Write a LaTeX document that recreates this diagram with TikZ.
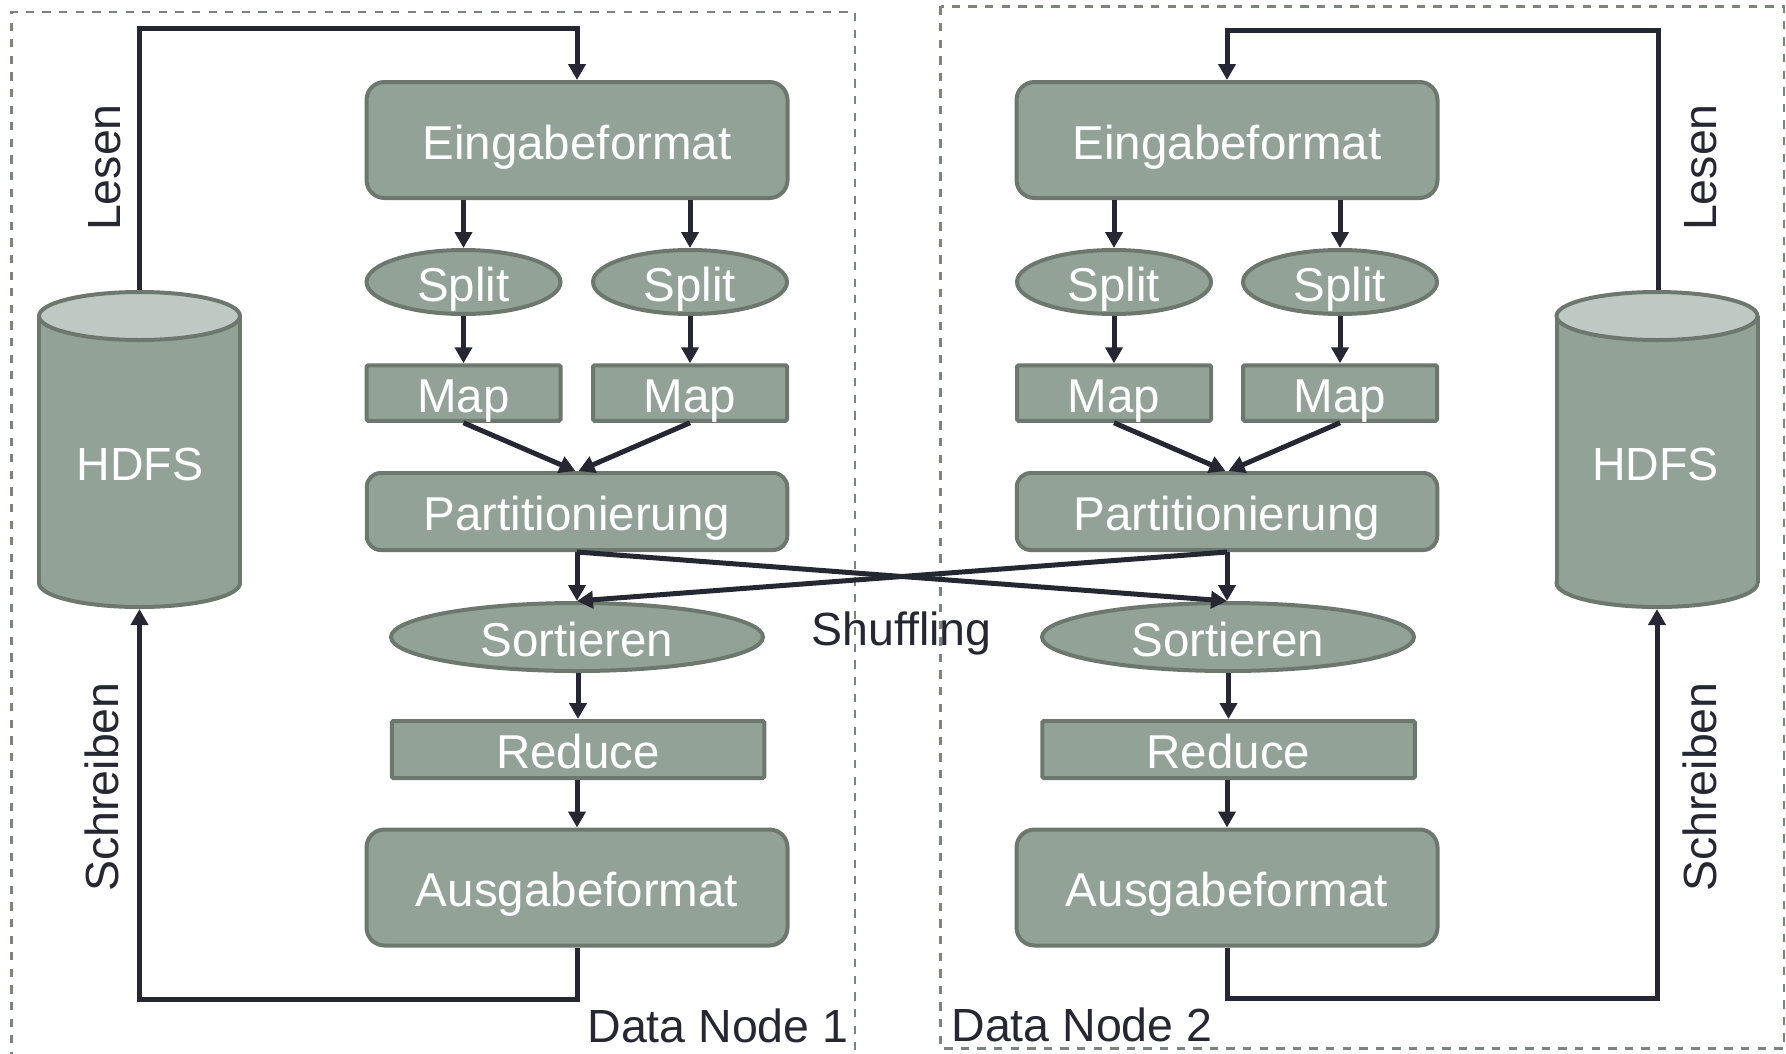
\documentclass[tikz,border=0pt]{standalone}
\usepackage{fontspec}
\setmainfont{Liberation Sans}
\usetikzlibrary{arrows.meta,shapes.geometric}
\definecolor{boxfill}{HTML}{92A297}
\definecolor{boxline}{HTML}{6C786E}
\definecolor{cyltop}{HTML}{BFC9C3}
\definecolor{ink}{HTML}{272733}
\definecolor{framecol}{HTML}{7B857E}

\begin{document}
\begin{tikzpicture}[x=1pt,y=-1pt,
  shapebase/.style={draw=boxline, fill=boxfill, line width=4pt, text=white, inner sep=0pt,
    font=\fontsize{47.5}{57}\selectfont, text height=38pt, text depth=0pt},
  bigbox/.style={shapebase, rectangle, rounded corners=18pt, minimum width=421pt, minimum height=116pt},
  partbox/.style={shapebase, rectangle, rounded corners=14pt, minimum width=420.5pt, minimum height=77pt},
  mapbox/.style={shapebase, rectangle, rounded corners=1.5pt, minimum width=194pt, minimum height=55.5pt},
  redbox/.style={shapebase, rectangle, rounded corners=1.5pt, minimum width=372.5pt, minimum height=57pt},
  splitell/.style={shapebase, ellipse, minimum width=194pt, minimum height=64pt},
  sortell/.style={shapebase, ellipse, minimum width=372pt, minimum height=68pt},
  flow/.style={draw=ink, line width=5pt, -{Triangle[length=16pt,width=17pt]}},
  lbl/.style={text=ink, inner sep=0pt, font=\fontsize{46.5}{56}\selectfont},
  cyllbl/.style={text=white, inner sep=0pt, font=\fontsize{46.5}{56}\selectfont},
  nodeframe/.style={draw=framecol, line width=2.3pt, dash pattern=on 8.3pt off 8.3pt},
  cylline/.style={draw=boxline, line width=4pt},
]
\useasboundingbox (0,0) rectangle (1786,1053);

% dashed frames of the two data nodes
\draw[nodeframe] (11.5,1060) -- (11.5,12) -- (855,12) -- (855,1060);
\draw[nodeframe] (940.5,6.4) rectangle (1784,1048.5);

% HDFS storage cylinders
\foreach \cx in {139.5,1657}{
  \fill[boxfill] (\cx,583) ellipse [x radius=100.5, y radius=24];
  \draw[cylline] (\cx,583) ellipse [x radius=100.5, y radius=24];
  \fill[boxfill] (\cx-100.5,316) rectangle (\cx+100.5,583);
  \draw[cylline] (\cx-100.5,316) -- (\cx-100.5,583) (\cx+100.5,316) -- (\cx+100.5,583);
  \draw[cylline, fill=cyltop] (\cx,316) ellipse [x radius=100.5, y radius=24];
}
\coordinate (cyl1top) at (139.5,290);
\coordinate (cyl1bot) at (139.5,609);
\coordinate (cyl2top) at (1658,290);
\coordinate (cyl2bot) at (1657,609);
\node[cyllbl, anchor=base] (hdfs1) at (139.75,480) {HDFS};
\node[cyllbl, anchor=base] (hdfs2) at (1655.5,480) {HDFS};

% processing chain, data node 1
\node[bigbox]   (ein1)  at (577,140)   {Eingabeformat};
\node[splitell] (spl1a) at (463.5,282) {Split};
\node[splitell] (spl1b) at (690,282)   {Split};
\node[mapbox]   (map1a) at (463.5,393) {Map};
\node[mapbox]   (map1b) at (690,393)   {Map};
\node[partbox]  (part1) at (577,511.5) {Partitionierung};
\node[sortell]  (sort1) at (577,637)   {Sortieren};
\node[redbox]   (red1)  at (578,749.5) {Reduce};
\node[bigbox]   (aus1)  at (577,887.5) {Ausgabeformat};

% processing chain, data node 2
\node[bigbox]   (ein2)  at (1227,140)   {Eingabeformat};
\node[splitell] (spl2a) at (1114,282)   {Split};
\node[splitell] (spl2b) at (1340,282)   {Split};
\node[mapbox]   (map2a) at (1114,393)   {Map};
\node[mapbox]   (map2b) at (1340,393)   {Map};
\node[partbox]  (part2) at (1227,511.5) {Partitionierung};
\node[sortell]  (sort2) at (1228,637)   {Sortieren};
\node[redbox]   (red2)  at (1228.5,749.5) {Reduce};
\node[bigbox]   (aus2)  at (1227,887.5) {Ausgabeformat};

% flow inside each node
\foreach \n in {1,2}{
  \draw[flow] (ein\n.south -| spl\n a.north) -- (spl\n a.north);
  \draw[flow] (ein\n.south -| spl\n b.north) -- (spl\n b.north);
  \draw[flow] (spl\n a.south) -- (map\n a.north);
  \draw[flow] (spl\n b.south) -- (map\n b.north);
  \draw[flow] (map\n a.south) -- ([xshift=-1.5pt]part\n.north);
  \draw[flow] (map\n b.south) -- ([xshift=1.5pt]part\n.north);
  \draw[flow] (part\n.south) -- (sort\n.north -| part\n.south);
  \draw[flow] (sort\n.south -| red\n.north) -- (red\n.north);
  \draw[flow] (red\n.south -| aus\n.north) -- (aus\n.north);
}

% shuffling between the nodes
\draw[flow] (part1.south) -- (sort2.north -| part2.south);
\draw[flow] (part2.south) -- (sort1.north);

% reading from and writing to HDFS
\coordinate (rd1) at (577,28.5);
\coordinate (rd2) at (1227,30);
\coordinate (wr1) at (139.5,999);
\coordinate (wr2) at (1657,998);
\draw[flow] (cyl1top) |- (rd1) -- (ein1.north);
\draw[flow] (cyl2top) |- (rd2) -- (ein2.north);
\draw[flow] (aus1.south) |- (wr1) -- (cyl1bot);
\draw[flow] (aus2.south) |- (wr2) -- (cyl2bot);

% labels
\node[lbl, rotate=90, anchor=base] (lesen1) at (120,167.5) {Lesen};
\node[lbl, rotate=90, anchor=base] (lesen2) at (1716,167.5) {Lesen};
\node[lbl, rotate=90, anchor=base] (schreiben1) at (118,787) {Schreiben};
\node[lbl, rotate=90, anchor=base] (schreiben2) at (1716,787) {Schreiben};
\node[lbl, anchor=base] (shuf) at (901.5,645) {Shuffling};
\node[lbl, anchor=base] (dn1) at (718,1042) {Data Node 1};
\node[lbl, anchor=base] (dn2) at (1082,1041) {Data Node 2};
\end{tikzpicture}
\end{document}
